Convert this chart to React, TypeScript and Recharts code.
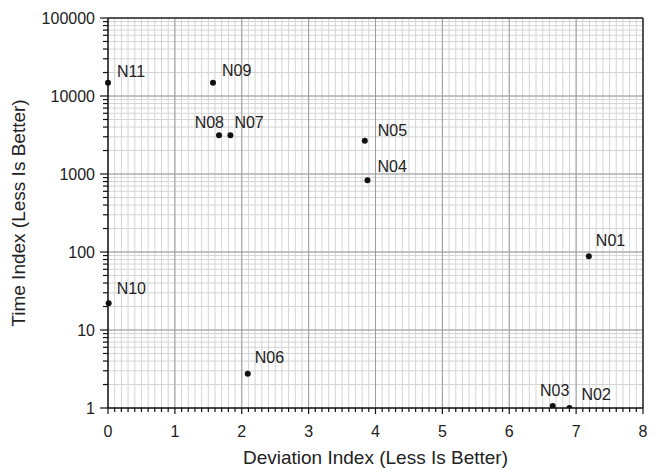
import {
  ScatterChart,
  Scatter,
  XAxis,
  YAxis,
  CartesianGrid,
  ReferenceLine,
  LabelList,
  Label,
} from 'recharts'

const names = ['N01', 'N02', 'N03', 'N04', 'N05', 'N06', 'N07', 'N08', 'N09', 'N10', 'N11']
const deviation = [7.19, 6.9, 6.65, 3.88, 3.84, 2.09, 1.83, 1.66, 1.57, 0.01, 0.0]
const timeIndex = [88, 1.0, 1.06, 830, 2670, 2.75, 3150, 3150, 14800, 22, 14800]

const xMajorTicks = [0, 1, 2, 3, 4, 5, 6, 7, 8]
const yMajorTicks = [1, 10, 100, 1000, 10000, 100000]

// minor ticks: tenths on x, 2..9 per decade on y
const xAllTicks: number[] = []
for (let i = 0; i <= 80; i++) xAllTicks.push(i / 10)
const yAllTicks: number[] = []
for (let d = 1; d < 100000; d *= 10) {
  for (let m = 1; m < 10; m++) yAllTicks.push(m * d)
}
yAllTicks.push(100000)

const data = names.map((name, i) => ({ name, x: deviation[i], y: timeIndex[i] }))

// label placement relative to each dot centre (dx, dy to baseline, anchor)
const labelPos: Record<string, [number, number, string]> = {
  N01: [7, -10, 'start'],
  N02: [12, -8, 'start'],
  N03: [2, -10, 'middle'],
  N04: [10, -8, 'start'],
  N05: [13, -5, 'start'],
  N06: [7, -11, 'start'],
  N07: [4, -7, 'start'],
  N08: [5, -7, 'end'],
  N09: [9, -7, 'start'],
  N10: [8, -9, 'start'],
  N11: [9, -6, 'start'],
}

const FONT = '"Liberation Sans", Arial, Helvetica, sans-serif'
const isInt = (v: number) => Math.abs(v - Math.round(v)) < 1e-6

const XTick = (props: any) => {
  const { x, y, payload } = props
  const major = isInt(payload.value)
  return (
    <g>
      <line x1={x} x2={x} y1={y} y2={y + (major ? 6 : 4)} stroke="#111" strokeWidth={1.2} />
      {major && (
        <text x={x} y={y + 29} textAnchor="middle" fontSize={16} fill="#222" fontFamily={FONT}>
          {Math.round(payload.value)}
        </text>
      )}
    </g>
  )
}

const YTick = (props: any) => {
  const { x, y, payload } = props
  const major = yMajorTicks.includes(payload.value)
  return (
    <g>
      <line x1={x} x2={x - (major ? 8 : 5)} y1={y} y2={y} stroke="#111" strokeWidth={1.2} />
      {major && (
        <text x={x - 13} y={y} dy="0.35em" textAnchor="end" fontSize={16} fill="#222" fontFamily={FONT}>
          {payload.value}
        </text>
      )}
    </g>
  )
}

const PointLabel = (props: any) => {
  const { x, y, width, height, value } = props
  const cx = x + (width ?? 0) / 2
  const cy = y + (height ?? 0) / 2
  const [dx, dy, anchor] = labelPos[value] ?? [8, -8, 'start']
  return (
    <text x={cx + dx} y={cy + dy} textAnchor={anchor} fontSize={16} fill="#222" fontFamily={FONT}>
      {value}
    </text>
  )
}

const XTitle = (props: any) => {
  const vb = props.viewBox
  return (
    <text x={vb.x + vb.width / 2} y={vb.y + 56} textAnchor="middle" fontSize={19} fill="#222" fontFamily={FONT}>
      Deviation Index (Less Is Better)
    </text>
  )
}

const YTitle = (props: any) => {
  const vb = props.viewBox
  const cx = vb.x + 25
  const cy = vb.y + vb.height / 2
  return (
    <text
      x={cx}
      y={cy}
      transform={`rotate(-90 ${cx} ${cy})`}
      textAnchor="middle"
      fontSize={19}
      fill="#222"
      fontFamily={FONT}
    >
      Time Index (Less Is Better)
    </text>
  )
}

const Dot = (props: any) => <circle cx={props.cx} cy={props.cy} r={3} fill="#111" />

export default function App() {
  return (
    <div style={{ position: 'absolute', left: 0, top: 0, width: 661, height: 470, background: '#fff' }}>
      <ScatterChart width={661} height={470} margin={{ top: 18, right: 18, bottom: 0, left: 0 }}>
        <CartesianGrid stroke="#d4d4d4" strokeWidth={1} />
        {xMajorTicks.slice(1, -1).map((v) => (
          <ReferenceLine key={'vx' + v} x={v} stroke="#9c9c9c" strokeWidth={1} />
        ))}
        {yMajorTicks.slice(1, -1).map((v) => (
          <ReferenceLine key={'hy' + v} y={v} stroke="#9c9c9c" strokeWidth={1} />
        ))}
        <ReferenceLine x={8} stroke="#222" strokeWidth={1.5} />
        <ReferenceLine y={100000} stroke="#222" strokeWidth={1.5} />
        <XAxis
          type="number"
          dataKey="x"
          domain={[0, 8]}
          ticks={xAllTicks}
          interval={0}
          height={62}
          tickSize={0}
          tickMargin={0}
          tickLine={false}
          tick={<XTick />}
          axisLine={{ stroke: '#111', strokeWidth: 1.5 }}
        >
          <Label content={<XTitle />} />
        </XAxis>
        <YAxis
          type="number"
          dataKey="y"
          scale="log"
          domain={[1, 100000]}
          allowDataOverflow
          ticks={yAllTicks}
          interval={0}
          width={108}
          tickSize={0}
          tickMargin={0}
          tickLine={false}
          tick={<YTick />}
          axisLine={{ stroke: '#111', strokeWidth: 1.5 }}
        >
          <Label content={<YTitle />} />
        </YAxis>
        <Scatter data={data} shape={<Dot />} isAnimationActive={false}>
          <LabelList dataKey="name" content={<PointLabel />} />
        </Scatter>
      </ScatterChart>
    </div>
  )
}
